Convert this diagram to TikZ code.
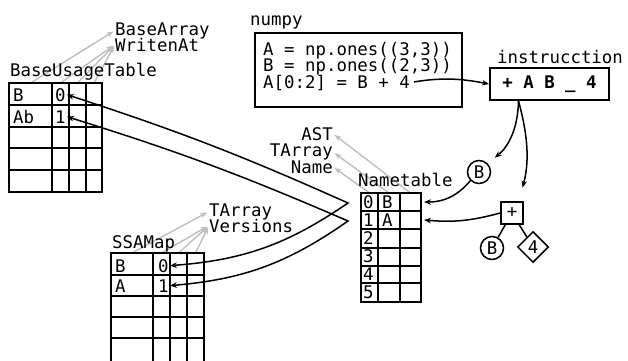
\documentclass[tikz,border=0pt]{standalone}
\usepackage{fontspec}
\setmainfont{DejaVu Sans Mono}
\usetikzlibrary{arrows.meta,shapes.geometric,backgrounds}

\definecolor{Cmeta}{HTML}{BEBEBE}

\tikzset{
	tbl/.style={line width=1.8pt},
	lbl/.style={anchor=base west,inner sep=0pt},
	rlbl/.style={anchor=base east,inner sep=0pt},
	cell/.style={anchor=base west,inner sep=1pt},
	ptr/.style={line width=1.5pt,-{Stealth[length=7pt,width=5.5pt]}},
	dptr/.style={line width=1.5pt,{Stealth[length=7pt,width=5.5pt]}-{Stealth[length=7pt,width=5.5pt]}},
	meta/.style={line width=1.4pt,Cmeta,-{Stealth[length=7pt,width=5.5pt]},shorten >=2pt},
	leaf/.style={draw,circle,line width=1.5pt,minimum size=23pt,inner sep=0pt},
}

\begin{document}
\begin{tikzpicture}[x=1pt,y=1pt,font=\fontsize{17.4}{16.5}\selectfont]
	\useasboundingbox (0,0) rectangle (628,-360);
	% BaseUsageTable
	\draw[tbl] (9,-83) rectangle (102,-192);
	\foreach \y in {105,127,148,170} \draw[tbl] (9,-\y) -- (102,-\y);
	\foreach \x in {52,69,86} \draw[tbl] (\x,-83) -- (\x,-192);
	\node[lbl] (butlbl) at (10,-76) {BaseUsageTable};
	\node[cell] (butb) at (12,-101) {B};
	\node[cell] (but0) at (54,-101) {0};
	\node[cell] (butab) at (12,-123) {Ab};
	\node[cell] (but1) at (54,-123) {1};
	\node[lbl] (barr) at (115,-35) {BaseArray};
	\node[lbl] (writ) at (115,-51) {WritenAt};
	\foreach \x [count=\i] in {30.5,60.5,77.5,94}
		\coordinate (buttop\i) at (\x,-83);
	% SSAMap
	\draw[tbl] (111,-253) rectangle (204,-366);
	\foreach \y in {275,296,317,338} \draw[tbl] (111,-\y) -- (204,-\y);
	\foreach \x in {153,170,187} \draw[tbl] (\x,-253) -- (\x,-366);
	\node[lbl] (ssalbl) at (112,-248) {SSAMap};
	\node[cell] (ssab) at (114,-272) {B};
	\node[cell] (ssa0) at (157,-272) {0};
	\node[cell] (ssaa) at (114,-292) {A};
	\node[cell] (ssa1) at (157,-292) {1};
	\node[lbl] (starr) at (209,-216) {TArray};
	\node[lbl] (svers) at (209,-232) {Versions};
	\foreach \x [count=\i] in {132,161.5,178.5,195.5}
		\coordinate (ssatop\i) at (\x,-253);
	% Nametable
	\draw[tbl] (361,-193) rectangle (421,-302);
	\foreach \y in {211,229,248,266,283} \draw[tbl] (361,-\y) -- (421,-\y);
	\foreach \x in {378,400} \draw[tbl] (\x,-193) -- (\x,-302);
	\node[lbl] (ntlbl) at (358,-186) {Nametable};
	\foreach \i in {0,...,5}
		\node[cell] (nt\i) at (362,-208-18.1*\i) {\i};
	\node[cell] (ntb) at (381,-208) {B};
	\node[cell] (nta) at (381,-226.1) {A};
	\node[rlbl] (ast) at (333,-140) {AST};
	\node[rlbl] (ntarr) at (333,-156.5) {TArray};
	\node[rlbl] (nname) at (333,-173) {Name};
	\foreach \x [count=\i] in {369.5,389,410.5}
		\coordinate (nttop\i) at (\x,-193);
	\coordinate (nt0r) at (424,-202);
	\coordinate (nt1r) at (424,-220);
	\coordinate (v0) at (348,-203);
	\coordinate (v1) at (348,-221);
	% numpy code and instruction
	\node[lbl] (nplbl) at (250,-25) {numpy};
	\draw[line width=2pt] (255,-33) rectangle (462,-107);
	\node[lbl] (l1) at (263,-55) {A = np.ones((3,3))};
	\node[lbl] (l2) at (263,-71.5) {B = np.ones((2,3))};
	\node[lbl] (l3) at (263,-88) {A[0:2] = B + 4};
	\node[lbl] (inslbl) at (497,-63) {instrucction};
	\node[draw,line width=2pt,minimum width=119pt,minimum height=32pt,
		inner sep=0pt] (ins) at (549.5,-84) {\bfseries + A B \_ 4};
	% tree
	\node[leaf] (bt) at (479,-172) {B};
	\node[draw,line width=1.8pt,minimum size=22pt,inner sep=0pt] (plus) at (512,-213) {+};
	\node[leaf] (bb) at (492,-248) {B};
	\node[draw,diamond,line width=1.5pt,minimum size=31pt,inner sep=0pt] (four) at (533,-247) {4};
	\draw[line width=1.5pt] (plus) -- (bb);
	\draw[line width=1.5pt] (plus) -- (four);
	% connectors
	\draw[ptr,shorten <=4pt] (l3.east) to[bend left=10] (ins.west);
	\draw[ptr,shorten >=9pt] ([xshift=-31pt]ins.south) to[bend left=25] (bt.north east);
	\draw[ptr,shorten >=14pt] ([xshift=-31pt]ins.south) to[bend left=15] ([xshift=7pt]plus.north);
	\draw[ptr] (bt.south west) to[bend left=25] (nt0r);
	\draw[ptr] (plus.west) to[bend left=10] (nt1r);
	\draw[dptr] (but0.east) to[bend left=3] (v0) to[bend left=15] (ssa0.east);
	\draw[dptr] (but1.east) to[bend left=3] (v1) to[bend left=15] (ssa1.east);
	\begin{scope}[on background layer]
		\draw[meta] (buttop1) -- (barr.west);
		\foreach \i in {2,3,4} \draw[meta] (buttop\i) -- (writ.west);
		\draw[meta] (ssatop1) -- (starr.west);
		\foreach \i in {2,3,4} \draw[meta] (ssatop\i) -- (svers.west);
		\draw[meta] (nttop1) -- (nname.east);
		\draw[meta] (nttop2) -- (ntarr.east);
		\draw[meta] (nttop3) -- (ast.east);
	\end{scope}
\end{tikzpicture}
\end{document}
